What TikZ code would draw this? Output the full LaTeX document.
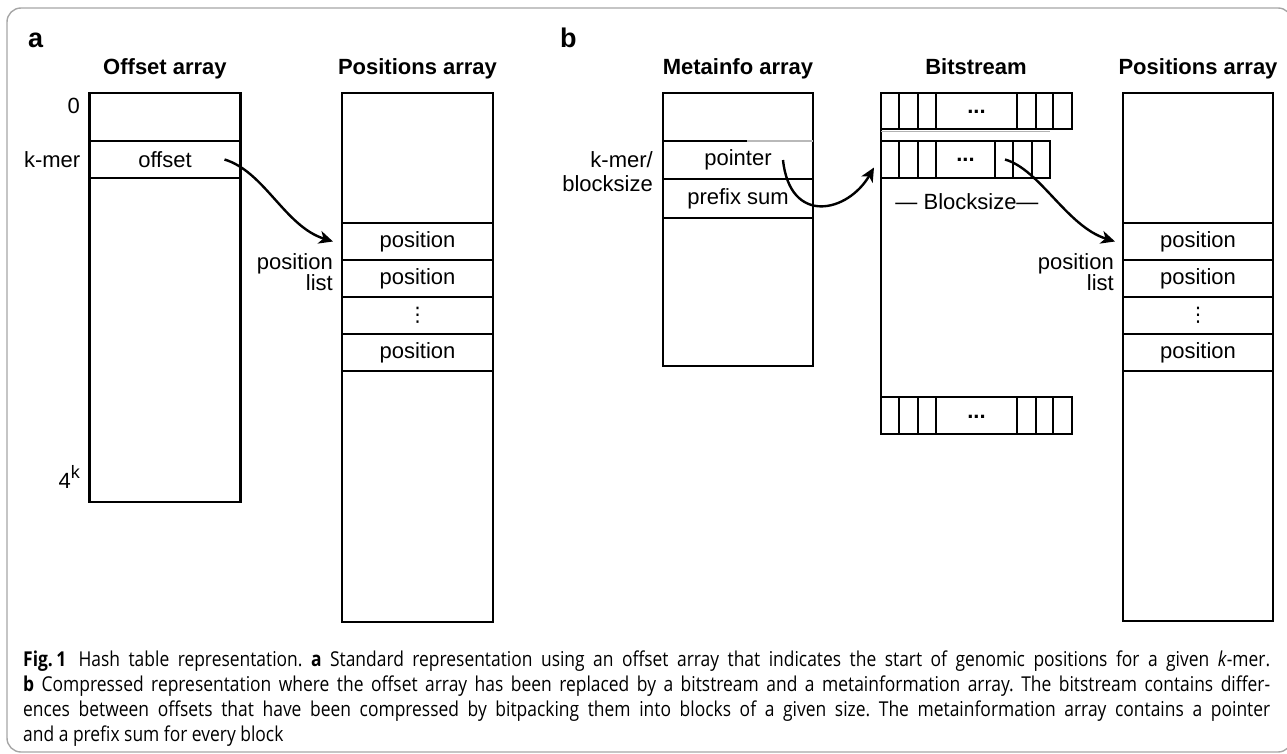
\documentclass[tikz,border=0pt]{standalone}
\usepackage{fontspec}
\setmainfont{Liberation Sans}
\newfontfamily\capfont[FakeStretch=0.85]{Open Sans}
\newfontfamily\symfont{DejaVu Sans}
\usetikzlibrary{arrows.meta,positioning}

\begin{document}
\begin{tikzpicture}[
    x=1pt, y=-1pt,
    arr/.style={draw, line width=2.4pt, outer sep=0pt, inner sep=0pt, minimum width=151pt, anchor=north},
    cell/.style={arr, minimum height=37pt, font=\fontsize{22}{24}\selectfont},
    blk/.style={draw, line width=2.4pt, outer sep=0pt, inner sep=0pt, minimum height=36pt, anchor=north west},
    sep/.style={line width=2pt},
    dots/.style={font=\fontsize{22}{24}\selectfont\bfseries, anchor=base, inner sep=0pt},
    ttl/.style={font=\fontsize{22}{24}\selectfont\bfseries, anchor=base, inner sep=0pt},
    lbl/.style={font=\fontsize{22}{24}\selectfont, anchor=east, align=right, inner sep=0pt},
    panel/.style={font=\fontsize{27}{27}\selectfont\bfseries, anchor=base west, inner sep=0pt},
    link/.style={-{Stealth[length=14pt,width=13pt,inset=4pt]}, line width=2.4pt},
    >=Stealth
]
\useasboundingbox (0,0) rectangle (1287,754);
\draw[gray!70, line width=1.4pt, rounded corners=14pt] (7,8) rectangle (1292,752);

% panel a
\node[panel] (pa) at (28,48) {a};
\node[arr, minimum height=409pt] (offarr) at (165,93) {};
\node[cell] (offcell) at (165,141) {offset};
\node[ttl] (offttl) at (165,75) {Offset array};
\node[lbl] (zero) at (80,106) {0};
\node[lbl, left=9pt of offcell] (kmer) {k-mer};
\node[lbl, anchor=base east] (fourk) at (80,488) {4\raisebox{10pt}{\fontsize{18}{18}\selectfont k}};

\node[arr, minimum height=529pt] (posarr) at (417.5,93) {};
\node[ttl] (posttl) at (417.5,75) {Positions array};
\node[cell] (pa1) at (417.5,223) {position};
\node[cell, below=0pt of pa1] (pa2) {position};
\node[cell, below=0pt of pa2, font=\symfont\fontsize{20}{20}\selectfont] (pa3) {⋮};
\node[cell, below=0pt of pa3] (pa4) {position};
\node[lbl, font=\fontsize{22}{20.5}\selectfont] (plista) at (333,272) {position\\list};

\draw[link] ([xshift=-16pt]offcell.east) .. controls +(40,12) and +(-48,-15) .. ([xshift=-9pt]pa1.west);

% panel b
\node[panel] (pb) at (560,48) {b};
\node[arr, minimum width=150pt, minimum height=273pt] (metaarr) at (738,93) {};
\node[ttl] (metattl) at (738,75) {Metainfo array};
\node[cell, minimum width=150pt, minimum height=38pt] (ptr) at (738,141) {pointer};
\node[cell, minimum width=150pt, minimum height=39pt, below=0pt of ptr] (psum) {prefix sum};
\draw[gray!55, line width=2.4pt] (747,141) -- (813,141);
\node[lbl] (kmerb) at (653,172) {k-mer/\\blocksize};

% bitstream
\node[ttl] (bitttl) at (976,75) {Bitstream};
\node[blk, minimum width=191pt] (blk1) at (881,93) {};
\node[blk, minimum width=169pt, minimum height=37pt] (blk2) at (881,141) {};
\node[blk, minimum width=191pt, minimum height=37pt] (blk3) at (881,397) {};
\draw[line width=2.4pt] (blk1.south west) -- (blk3.north west);
\draw[gray!60, line width=1pt] (881,132) -- (1050,132);
\foreach \x in {18,37,55,136,155,172} {
  \draw[sep] ([xshift=\x pt]blk1.north west) -- ([xshift=\x pt]blk1.south west);
  \draw[sep] ([xshift=\x pt]blk3.north west) -- ([xshift=\x pt]blk3.south west);
}
\foreach \x in {18,37,55,114,132,151}
  \draw[sep] ([xshift=\x pt]blk2.north west) -- ([xshift=\x pt]blk2.south west);
\node[dots] (d1) at (976.5,114) {...};
\node[dots] (d2) at (965.5,162) {...};
\node[dots] (d3) at (976.5,418) {...};
\node[font=\fontsize{22}{24}\selectfont, anchor=base] (bsize) at (967,210) {— Blocksize—};

\node[arr, minimum width=150pt, minimum height=528pt] (posbarr) at (1198,93) {};
\node[ttl] (posbttl) at (1198,75) {Positions array};
\node[cell, minimum width=150pt] (pb1) at (1198,223) {position};
\node[cell, minimum width=150pt, below=0pt of pb1] (pb2) {position};
\node[cell, minimum width=150pt, below=0pt of pb2, font=\symfont\fontsize{20}{20}\selectfont] (pb3) {⋮};
\node[cell, minimum width=150pt, below=0pt of pb3] (pb4) {position};
\node[lbl, font=\fontsize{22}{20.5}\selectfont] (plistb) at (1114,272) {position\\list};

\draw[link] ([xshift=-30pt]ptr.east) .. controls +(7,66) and +(-26,45) .. ([shift={(-7,8)}]blk2.west);
\draw[link] ([xshift=-45pt]blk2.east) .. controls +(35,10) and +(-48,-15) .. ([xshift=-8pt]pb1.west);

% caption
\node[anchor=north west, inner sep=0pt, text width=1247pt, align=justify,
      font=\capfont\fontsize{20.5}{25}\selectfont] (caption) at (23,651)
  {\frenchspacing\tolerance=10000\hyphenpenalty=10000
   \textbf{Fig.\,1}\hspace{0.6em}Hash table representation. \textbf{a} Standard representation using an offset array that indicates the start of genomic positions for a given \textit{k}-mer.\linebreak
   \textbf{b} Compressed representation where the offset array has been replaced by a bitstream and a metainformation array. The bitstream contains differ-\linebreak
   ences between offsets that have been compressed by bitpacking them into blocks of a given size. The metainformation array contains a pointer\linebreak
   and a prefix sum for every block};
\end{tikzpicture}
\end{document}
